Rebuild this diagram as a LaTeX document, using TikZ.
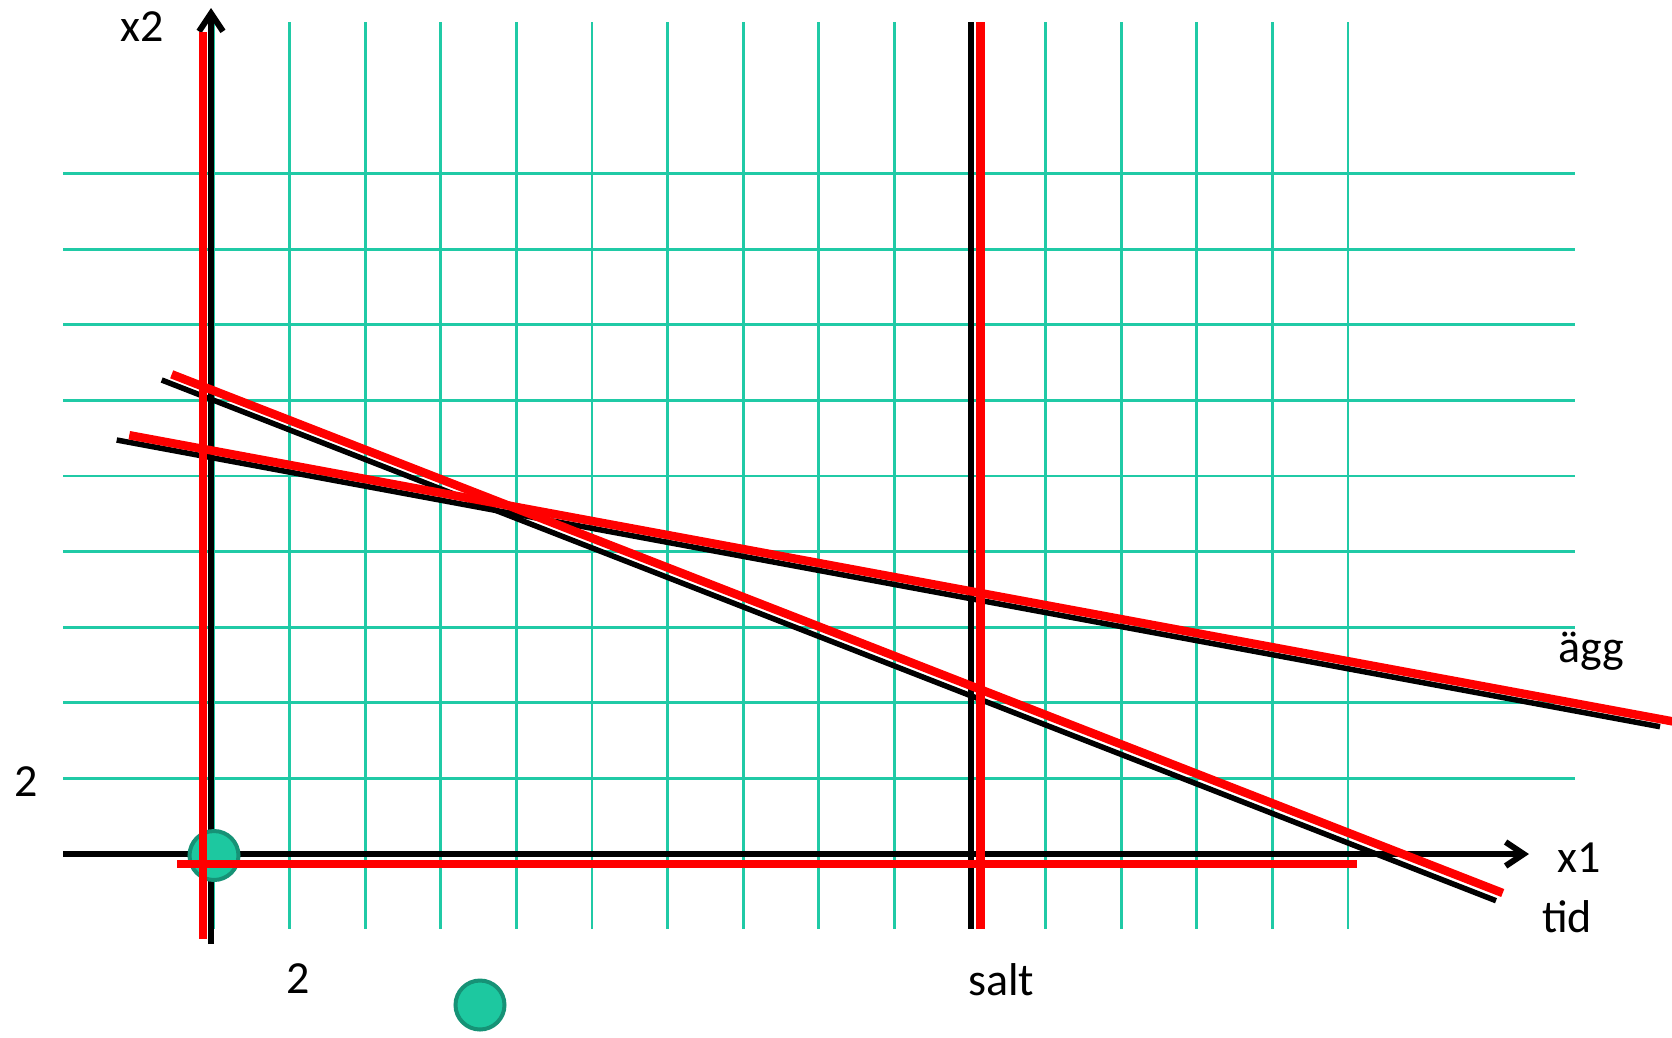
\documentclass[tikz,border=0pt]{standalone}
\usepackage{fontspec}
\setmainfont{Carlito}
\usetikzlibrary{arrows.meta}
\definecolor{gridteal}{RGB}{32,202,166}
\definecolor{dotfill}{RGB}{29,200,160}
\definecolor{dotedge}{RGB}{22,146,118}
\tikzset{
  gridline/.style={draw=gridteal, line width=2.8pt},
  blackline/.style={draw=black, line width=5.5pt},
  redline/.style={draw=red, line width=8.5pt},
  axisline/.style={blackline, -{Straight Barb[length=18pt,width=24pt,line width=6pt]}},
  dot/.style={circle, minimum size=49pt, inner sep=0pt, fill=dotfill, draw=dotedge, line width=4pt},
  lbl/.style={inner sep=0pt, font=\fontsize{46}{54}\selectfont}
}
\begin{document}
\begin{tikzpicture}[x=1pt, y=-1pt]
\useasboundingbox[fill=white] (0,0) rectangle (1672,1037);
% grid
\foreach \k in {0,...,15} {
  \draw[gridline] ({214+75.6*\k},22) -- ({214+75.6*\k},929);
}
\foreach \j in {1,...,9} {
  \draw[gridline] (63,{854-75.6*\j}) -- (1575,{854-75.6*\j});
}
% coordinates
\coordinate (ybot) at (211,944);
\coordinate (ytop) at (211,8);
\coordinate (xleft) at (63,854);
\coordinate (xright) at (1529,854);
\coordinate (saltbtop) at (971,22);
\coordinate (saltbbot) at (971,929);
\coordinate (saltrtop) at (980.5,22);
\coordinate (saltrbot) at (980.5,929);
\coordinate (yrtop) at (203,32);
\coordinate (yrbot) at (203,939);
\coordinate (hrleft) at (177,864);
\coordinate (hrright) at (1357,864);
\coordinate (aggbl) at (116.7,440);
\coordinate (aggbr) at (1660,726.7);
\coordinate (aggrl) at (129.3,435.2);
\coordinate (aggrr) at (1676,722);
\coordinate (tidbl) at (161.7,380);
\coordinate (tidbr) at (1496,900.7);
\coordinate (tidrl) at (171.7,374.3);
\coordinate (tidrr) at (1502.7,893);
% black lines
\draw[axisline] (ybot) -- (ytop);
\draw[axisline] (xleft) -- (xright);
\draw[blackline] (saltbtop) -- (saltbbot);
\draw[blackline] (aggbl) -- (aggbr);
\draw[blackline] (tidbl) -- (tidbr);
% dots
\node[dot] (dot1) at (214,855.5) {};
\node[dot] (dot2) at (480,1005) {};
% red lines
\draw[redline] (yrtop) -- (yrbot);
\draw[redline] (saltrtop) -- (saltrbot);
\draw[redline] (hrleft) -- (hrright);
\draw[redline] (aggrl) -- (aggrr);
\draw[redline] (tidrl) -- (tidrr);
% labels
\node[lbl] (lx2) at (142,27) {x2};
\node[lbl] (lx1) at (1579,858) {x1};
\node[lbl] (ltid) at (1567,917) {tid};
\node[lbl] (lagg) at (1591,651) {ägg};
\node[lbl] (lsalt) at (1001,980) {salt};
\node[lbl] (ltwoy) at (26,782) {2};
\node[lbl] (ltwox) at (298.5,979) {2};
\end{tikzpicture}
\end{document}
